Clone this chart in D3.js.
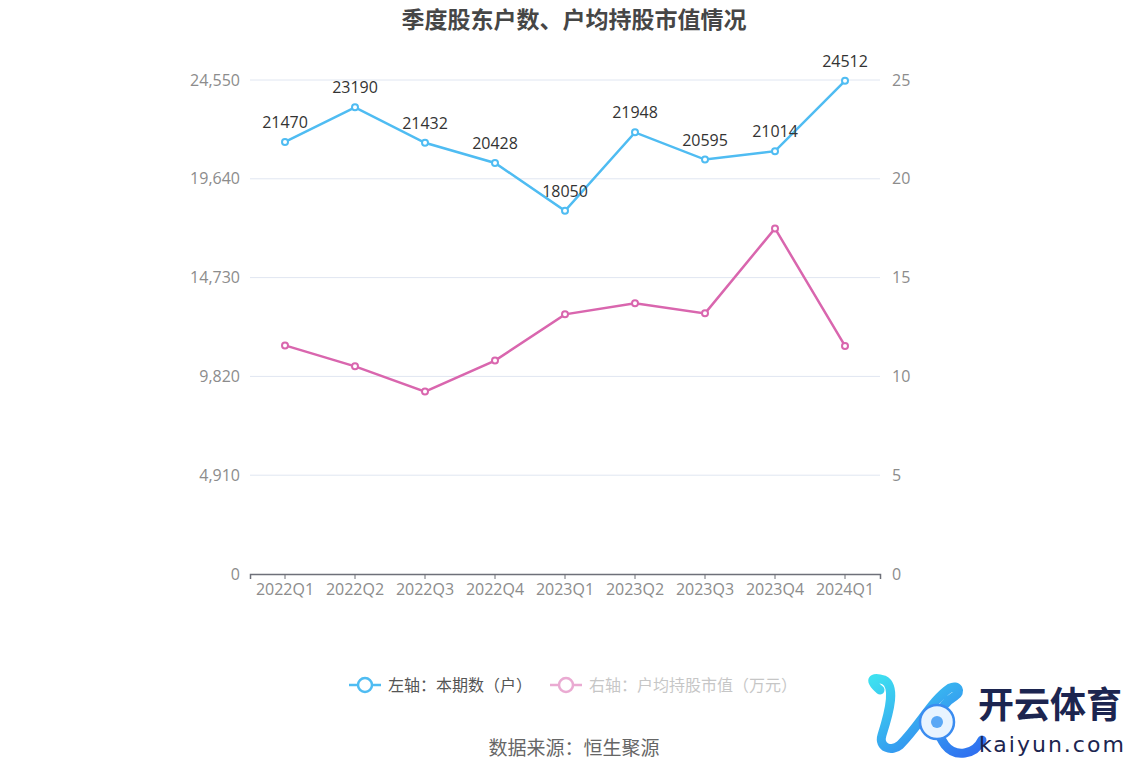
<!DOCTYPE html>
<html><head><meta charset="utf-8">
<script src="https://cdn.jsdelivr.net/npm/d3@7/dist/d3.min.js"></script>
<style>body{margin:0;background:#fff;font-family:"Microsoft YaHei","Noto Sans CJK SC",sans-serif;}</style>
</head><body>
<svg id="c" width="1148" height="776"></svg>
<script>
const categories = ["2022Q1","2022Q2","2022Q3","2022Q4","2023Q1","2023Q2","2023Q3","2023Q4","2024Q1"];
const holders = [21470,23190,21432,20428,18050,21948,20595,21014,24512];
const avgValue = [11.57,10.51,9.23,10.80,13.14,13.70,13.19,17.49,11.54];
const leftTicks = [0,4910,9820,14730,19640,24550];
const rightTicks = [0,5,10,15,20,25];

const svg = d3.select("#c");
const font = '"Microsoft YaHei","Noto Sans CJK SC",sans-serif';
const numFont = '"Open Sans","Noto Sans",sans-serif';
const L = 250, R = 880, T = 80, B = 574;
const x = d3.scaleBand().domain(categories).range([L,R]);
const yL = d3.scaleLinear().domain([0,24550]).range([B,T]);
const yR = d3.scaleLinear().domain([0,25]).range([B,T]);
const cx = d => x(d)+x.bandwidth()/2;

// title
svg.append("text").attr("x",574).attr("y",28).attr("text-anchor","middle")
  .attr("font-family",font).attr("font-size",23).attr("font-weight","bold").attr("fill","#464646")
  .text("季度股东户数、户均持股市值情况");

// grid
svg.append("g").selectAll("line").data(leftTicks.slice(1)).join("line")
  .attr("x1",L).attr("x2",R).attr("y1",d=>yL(d)).attr("y2",d=>yL(d))
  .attr("stroke","#e0e6f1").attr("stroke-width",1);

// left axis
const gl = svg.append("g").attr("transform",`translate(${L},0)`)
  .call(d3.axisLeft(yL).tickValues(leftTicks).tickFormat(d3.format(",")).tickSize(0).tickPadding(10));
gl.select(".domain").remove();
gl.selectAll("text").attr("font-family",numFont).attr("font-size",16).attr("fill","#8c8c8c");

const gr = svg.append("g").attr("transform",`translate(${R},0)`)
  .call(d3.axisRight(yR).tickValues(rightTicks).tickSize(0).tickPadding(12));
gr.select(".domain").remove();
gr.selectAll("text").attr("font-family",numFont).attr("font-size",16).attr("fill","#8c8c8c");

// x axis
const gx = svg.append("g").attr("transform",`translate(0,${B})`)
  .call(d3.axisBottom(x).tickSize(5).tickPadding(5));
gx.select(".domain").attr("stroke","#6e7079").attr("stroke-width",1.5);
gx.selectAll(".tick line").attr("stroke","#6e7079");
gx.selectAll("text").attr("font-family",numFont).attr("font-size",16).attr("fill","#8c8c8c");

// lines
const blue = "#4fbcf2", pink = "#d966ae";
const lineL = d3.line().x((d,i)=>cx(categories[i])).y(d=>yL(d));
const lineR = d3.line().x((d,i)=>cx(categories[i])).y(d=>yR(d));
svg.append("path").attr("d",lineR(avgValue)).attr("fill","none").attr("stroke",pink).attr("stroke-width",2.5);
svg.append("path").attr("d",lineL(holders)).attr("fill","none").attr("stroke",blue).attr("stroke-width",2.5);
svg.append("g").selectAll("circle").data(avgValue).join("circle")
  .attr("cx",(d,i)=>cx(categories[i])).attr("cy",d=>yR(d)).attr("r",3)
  .attr("fill","#fff").attr("stroke",pink).attr("stroke-width",2);
svg.append("g").selectAll("circle").data(holders).join("circle")
  .attr("cx",(d,i)=>cx(categories[i])).attr("cy",d=>yL(d)).attr("r",3)
  .attr("fill","#fff").attr("stroke",blue).attr("stroke-width",2);
svg.append("g").selectAll("text").data(holders).join("text")
  .attr("x",(d,i)=>cx(categories[i])).attr("y",d=>yL(d)-14).attr("text-anchor","middle")
  .attr("font-family",numFont).attr("font-size",16).attr("fill","#333").text(d=>d);

// legend
const lg = svg.append("g");
function legItem(x0, color, label, textColor, op){
  const g = lg.append("g").attr("opacity",op);
  g.append("line").attr("x1",x0).attr("x2",x0+32).attr("y1",685).attr("y2",685).attr("stroke",color).attr("stroke-width",2.5);
  g.append("circle").attr("cx",x0+16).attr("cy",685).attr("r",7).attr("fill","#fff").attr("stroke",color).attr("stroke-width",2.5);
  g.append("text").attr("x",x0+39).attr("y",691).attr("font-family",font).attr("font-size",16).attr("fill",textColor).text(label);
}
legItem(349, blue, "左轴：本期数（户）", "#555", 1);
legItem(550, pink, "右轴：户均持股市值（万元）", "#999", 0.55);

// source
svg.append("text").attr("x",574).attr("y",755).attr("text-anchor","middle")
  .attr("font-family",font).attr("font-size",19).attr("fill","#666").text("数据来源：恒生聚源");

// logo
const defs = svg.append("defs");
const gr1 = defs.append("linearGradient").attr("id","kg").attr("x1","0").attr("y1","0").attr("x2","1").attr("y2","1");
gr1.append("stop").attr("offset","0").attr("stop-color","#3ee0f0");
gr1.append("stop").attr("offset","1").attr("stop-color","#2f6cf0");
const logo = svg.append("g");
logo.append("path").attr("d","M880,690 C868,680 872,676 884,680 C896,686 890,710 882,735 C878,748 892,752 900,745 C920,725 932,700 950,688 C958,684 962,692 955,696 C940,705 930,725 945,745 C955,758 975,755 982,740")
  .attr("fill","none").attr("stroke","url(#kg)").attr("stroke-width",9).attr("stroke-linecap","round");
logo.append("circle").attr("cx",937).attr("cy",722).attr("r",17).attr("fill","#e8f4ff").attr("stroke","#3b8cf0").attr("stroke-width",2.5);
logo.append("circle").attr("cx",937).attr("cy",722).attr("r",6).attr("fill","#5aa8f5");
logo.append("text").attr("x",978).attr("y",718).attr("font-family",font).attr("font-size",36).attr("font-weight","bold").attr("fill","#1c2550").text("开云体育");
logo.append("text").attr("x",979).attr("y",752).attr("font-family","DejaVu Sans, sans-serif").attr("font-size",22).attr("letter-spacing",2).attr("fill","#1c2550").text("kaiyun.com");
</script>
</body></html>
